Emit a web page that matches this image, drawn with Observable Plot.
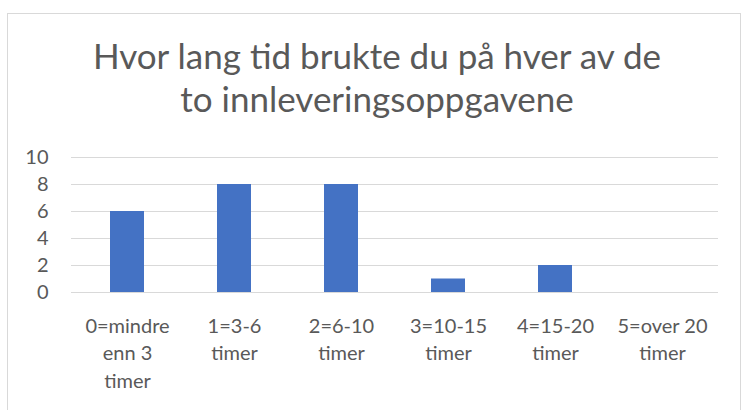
<!DOCTYPE html>
<html>
<head>
<meta charset="utf-8">
<script src="https://cdn.jsdelivr.net/npm/d3@7"></script>
<script src="https://cdn.jsdelivr.net/npm/@observablehq/plot@0.6"></script>
<style>
  html, body { margin: 0; padding: 0; background: #fff; }
  #wrap { position: relative; width: 747px; height: 410px; overflow: hidden; font-family: Lato, "Open Sans", sans-serif; color: #595959; }
  #frame { position: absolute; left: 7px; top: 13px; width: 734px; height: 420px; border: 1px solid #d9d9d9; box-sizing: border-box; }
  #title { position: absolute; left: 0; width: 754px; top: 34px; text-align: center; font-size: 35px; line-height: 43px; color: #595959; }
  #chart { position: absolute; left: 0; top: 140px; }
</style>
</head>
<body>
<div id="wrap">
  <div id="frame"></div>
  <div id="title">Hvor lang tid brukte du på hver av de<br>to innleveringsoppgavene</div>
  <div id="chart"></div>
</div>
<script>
const categories = ["0=mindre enn 3 timer", "1=3-6 timer", "2=6-10 timer", "3=10-15 timer", "4=15-20 timer", "5=over 20 timer"];
const categoryLabels = ["0=mindre\nenn 3\ntimer", "1=3-6\ntimer", "2=6-10\ntimer", "3=10-15\ntimer", "4=15-20\ntimer", "5=over 20\ntimer"];
const values = [6, 8, 8, 1, 2, 0];
const yTicks = [0, 2, 4, 6, 8, 10];

const data = categories.map((c, i) => ({category: c, label: categoryLabels[i], value: values[i]}));

const chart = Plot.plot({
  width: 747,
  height: 270,
  marginLeft: 71,
  marginRight: 29,
  marginTop: 17,
  marginBottom: 118,
  style: {fontFamily: "Lato, 'Open Sans', sans-serif", fontSize: "20px", color: "#595959", background: "transparent"},
  x: {domain: categories, paddingInner: 0.685, paddingOuter: 0.3425, axis: null},
  y: {domain: [0, 10], ticks: yTicks, axis: null},
  marks: [
    Plot.ruleY(yTicks, {stroke: "#d9d9d9", strokeWidth: 1}),
    Plot.barY(data, {x: "category", y: "value", fill: "#4472c4"}),
    Plot.axisY({ticks: yTicks, tickSize: 0, tickPadding: 23, fontSize: 20, fill: "#595959", label: null}),
    Plot.text(data, {x: "category", y: () => 0, text: "label", lineAnchor: "top", dy: 21, lineHeight: 1.37, fontSize: 20, fill: "#595959"})
  ]
});
document.getElementById("chart").appendChild(chart);
</script>
</body>
</html>
